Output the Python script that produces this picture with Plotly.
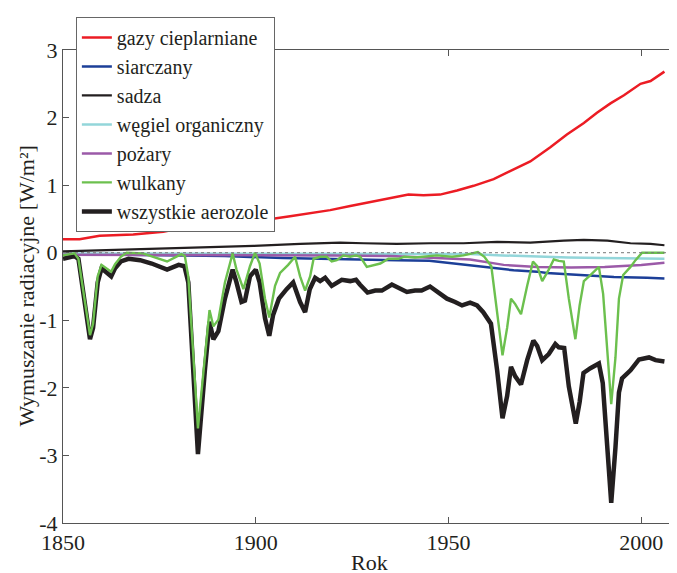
import plotly.graph_objects as go

# ---- data ----
ghg_years = [1850, 1854.3, 1859.5, 1868.2, 1876, 1881.2, 1886.4, 1894.2, 1899.4, 1908.9, 1919.3,
             1924.5, 1929.7, 1934.9, 1939.6, 1943.5, 1947.8, 1952.2, 1956.5, 1961.7, 1967.8,
             1971.2, 1976.4, 1980.7, 1985.1, 1988.5, 1992, 1995.5, 1999.8, 2002.4, 2006]
ghg_vals = [0.20, 0.20, 0.25, 0.27, 0.31, 0.37, 0.40, 0.44, 0.46, 0.54, 0.63,
            0.69, 0.75, 0.81, 0.86, 0.85, 0.86, 0.92, 0.99, 1.09, 1.25,
            1.35, 1.56, 1.75, 1.92, 2.07, 2.21, 2.33, 2.50, 2.54, 2.68]

sulf_years = [1850, 1870, 1892, 1907, 1921, 1928, 1936.6, 1945, 1949.6, 1955.6, 1958.2, 1966.9,
              1973, 1975.5, 1984.2, 1990, 1992.9, 2001.5, 2006]
sulf_vals = [-0.02, -0.03, -0.05, -0.08, -0.09, -0.10, -0.11, -0.12, -0.15, -0.19, -0.21, -0.26,
             -0.28, -0.30, -0.33, -0.35, -0.36, -0.37, -0.38]

bc_years = [1850, 1868.2, 1885.5, 1899.4, 1911.5, 1921.9, 1928, 1936.6, 1945.2, 1953.9, 1962.6,
            1971.2, 1979.9, 1985.1, 1991.2, 1997.2, 2002.4, 2006]
bc_vals = [0.02, 0.05, 0.07, 0.10, 0.13, 0.15, 0.14, 0.13, 0.14, 0.14, 0.16,
           0.15, 0.18, 0.19, 0.18, 0.14, 0.13, 0.11]

oc_years = [1850, 1900, 1940, 1955.6, 1964, 1973, 1981, 1990, 1998, 2006]
oc_vals = [-0.01, -0.01, -0.01, -0.02, -0.04, -0.06, -0.07, -0.08, -0.09, -0.09]

fire_years = [1850, 1900, 1920, 1935, 1945, 1955.6, 1964.3, 1973, 1981.8, 1990.5, 2000, 2006]
fire_vals = [-0.03, -0.03, -0.04, -0.05, -0.07, -0.10, -0.18, -0.21, -0.22, -0.21, -0.18, -0.15]

volc_years = [1850, 1853, 1854, 1857, 1857.8, 1859, 1860, 1862.5, 1863.5, 1865, 1866.5, 1870.7,
              1873.4, 1877, 1880.7, 1881.6, 1882.5, 1885, 1886.8, 1888, 1889, 1890.3, 1892,
              1894, 1895, 1896.8, 1898.5, 1899.8, 1901, 1902.4, 1903.5, 1905, 1906.3, 1908.4,
              1910.2, 1911.5, 1912.8, 1914.1, 1915, 1916.7, 1918.4, 1919.7, 1921, 1922.7,
              1924.5, 1926, 1927.1, 1928.8, 1932.3, 1934.4, 1937, 1938.5, 1941.3, 1944.4,
              1947, 1950.9, 1953.9, 1957.6, 1959.3, 1961.1, 1962.6, 1964, 1965.2, 1966.2,
              1967.3, 1968.8, 1970.4, 1971.9, 1973, 1974.3, 1976, 1977.3, 1978.6, 1979.9,
              1981.2, 1982.9, 1984, 1985.1, 1986.8, 1989, 1990.1, 1991.2, 1992.2, 1993.3,
              1994.2, 1995.3, 1997.2, 1998.5, 2000.2, 2006]
volc_vals = [-0.04, -0.01, -0.09, -1.22, -1.05, -0.35, -0.18, -0.28, -0.17, -0.06, 0.0, -0.01,
             -0.06, -0.13, -0.02, -0.05, -0.35, -2.60, -1.55, -0.85, -1.09, -0.99, -0.44,
             -0.01, -0.25, -0.54, -0.20, 0.0, -0.16, -0.68, -0.96, -0.49, -0.30, -0.18,
             -0.06, -0.35, -0.56, -0.35, -0.09, -0.06, -0.06, -0.13, -0.11, -0.04,
             -0.06, -0.04, -0.06, -0.21, -0.16, -0.09, -0.09, -0.06, -0.07, -0.05,
             -0.04, -0.06, -0.04, 0.01, -0.06, -0.20, -0.92, -1.52, -1.11, -0.68,
             -0.76, -0.91, -0.49, -0.13, -0.20, -0.42, -0.25, -0.10, -0.12, -0.13,
             -0.68, -1.28, -0.78, -0.42, -0.33, -0.21, -0.61, -1.45, -2.24, -1.55,
             -0.68, -0.33, -0.21, -0.11, 0.0, 0.0]

aer_years = [1850, 1853, 1854, 1857, 1857.8, 1859, 1860, 1862.5, 1863.5, 1865, 1867, 1870,
             1873, 1877, 1880, 1881.5, 1882.5, 1885, 1886.8, 1888, 1889, 1890.3, 1892, 1894,
             1895, 1896.3, 1897.2, 1898.5, 1900, 1901, 1902.4, 1903.5, 1904.5, 1906, 1908,
             1909.7, 1911.5, 1912.8, 1914, 1915.4, 1916.7, 1918, 1919.7, 1921, 1922.3, 1924.5,
             1926, 1927, 1929, 1931, 1932.7, 1935.3, 1937, 1939.2, 1941.3, 1943, 1945.2,
             1947.4, 1949.6, 1951.7, 1953.5, 1955.6, 1957.4, 1959, 1961, 1962.6, 1964,
             1965.2, 1966.2, 1967.3, 1968.8, 1970.4, 1972, 1973, 1974.3, 1976, 1977.7,
             1978.6, 1980, 1981.2, 1983, 1984, 1985, 1986.8, 1989, 1990, 1991.2, 1992.2,
             1993.3, 1994.2, 1995, 1997.2, 1999.4, 2002, 2003.7, 2006]
aer_vals = [-0.09, -0.05, -0.09, -1.28, -1.11, -0.44, -0.23, -0.35, -0.23, -0.13, -0.09, -0.11,
            -0.16, -0.25, -0.18, -0.20, -0.44, -2.98, -1.74, -1.02, -1.28, -1.16, -0.68, -0.25,
            -0.44, -0.73, -0.71, -0.35, -0.25, -0.44, -0.97, -1.23, -0.92, -0.68, -0.54,
            -0.44, -0.73, -0.88, -0.54, -0.37, -0.42, -0.37, -0.49, -0.44, -0.40, -0.42,
            -0.40, -0.47, -0.59, -0.56, -0.56, -0.47, -0.52, -0.58, -0.56, -0.56, -0.50,
            -0.59, -0.68, -0.73, -0.78, -0.74, -0.78, -0.88, -1.05, -1.74, -2.45,
            -2.12, -1.69, -1.83, -1.95, -1.59, -1.30, -1.38, -1.59, -1.50, -1.35,
            -1.40, -1.41, -1.98, -2.53, -2.21, -1.78, -1.71, -1.64, -1.93, -2.84, -3.70,
            -2.88, -2.07, -1.86, -1.74, -1.58, -1.55, -1.59, -1.61]

y_ticks = [-4, -3, -2, -1, 0, 1, 2, 3]
y_ticktext = ["-4", "-3", "-2", "-1", "0", "1", "2", "3"]
x_ticks = [1850, 1900, 1950, 2000]

FONT = "Times New Roman"
TXT = "#231f20"

fig = go.Figure()

series = [
    ("gazy cieplarniane", ghg_years, ghg_vals, "#ec1c24", 2.5, 1),
    ("siarczany", sulf_years, sulf_vals, "#1c3f98", 2.5, 2),
    ("sadza", bc_years, bc_vals, "#231f20", 2.2, 3),
    ("węgiel organiczny", oc_years, oc_vals, "#93d6da", 2.5, 4),
    ("pożary", fire_years, fire_vals, "#9b5aa8", 2.5, 5),
    ("wszystkie aerozole", aer_years, aer_vals, "#231f20", 4.5, 7),
    ("wulkany", volc_years, volc_vals, "#6cc04e", 2.4, 6),
]
for name, xs, ys, col, w, rank in series:
    fig.add_trace(go.Scatter(x=xs, y=ys, mode="lines", name=name,
                             line=dict(color=col, width=w), legendrank=rank))

fig.add_shape(type="line", xref="paper", x0=0, x1=1, yref="y", y0=0, y1=0,
              line=dict(color="#777777", width=1, dash="dot"), layer="above")

axis_common = dict(showline=True, linecolor="#555555", linewidth=1, mirror="ticks",
                   ticks="inside", ticklen=6, tickcolor="#555555", showgrid=False,
                   zeroline=False, automargin=False,
                   tickfont=dict(family=FONT, size=22, color=TXT))

fig.update_layout(
    width=677, height=573,
    margin=dict(l=55, r=9, t=27, b=58),
    paper_bgcolor="white", plot_bgcolor="white",
    font=dict(family=FONT, color=TXT, size=21),
    showlegend=True,
    legend=dict(x=0.021, y=1.07, xanchor="left", yanchor="top",
                bgcolor="white", bordercolor="#666666", borderwidth=1,
                font=dict(family=FONT, size=20, color=TXT),
                tracegroupgap=0),
    xaxis=dict(range=[1850, 2009], tickvals=x_ticks, **axis_common),
    yaxis=dict(range=[-4, 3], tickvals=y_ticks, ticktext=y_ticktext, **axis_common),
    annotations=[
        dict(text="Rok", xref="paper", yref="paper", x=0.5, y=0, yshift=-39,
             showarrow=False, xanchor="center", yanchor="middle",
             font=dict(family=FONT, size=22, color=TXT)),
        dict(text="Wymuszanie radiacyjne [W/m²]", xref="paper", yref="paper",
             x=0, y=0.5, xshift=-37, textangle=-90, showarrow=False,
             xanchor="center", yanchor="middle",
             font=dict(family=FONT, size=22, color=TXT)),
    ],
)

fig.write_html("out.html")
